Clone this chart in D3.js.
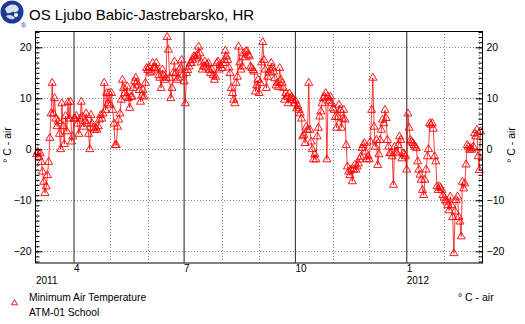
<!DOCTYPE html>
<html>
<head>
<meta charset="utf-8">
<script src="https://cdn.jsdelivr.net/npm/d3@7"></script>
<style>
    body { margin: 0; background: #fff; }
    svg { display: block; font-family: "Liberation Sans", Arial, sans-serif; }
</style>
</head>
<body>
<svg id="chart" width="525" height="324"></svg>
<script>
// daily minimum air temperature, one value per day from 1 March 2011
const startDate = new Date(2011, 2, 1);
const mar2011 = [-1, -0.5, -1.5, -0.8, -2.5, -4.4, -6.4, -8.6, -7.3, -5.1, -2.5, 2.2, 7, 13, 7, 10, 6, 4.5, 5.5, 3, 0, 9, 4.5, 1, 6.5, 3.5, 9.2, 6, 9.3, 1.5, 2.5];
const apr2011 = [6, 6, 6.5, 5, 3, 6, 9.3, 6.4, 4.4, 5.5, 7, 5, 3, 0, 6.7, 5, 4.2, 3.8, 4.2, 3.8, 4.5, 5.8, 6.7, 6, 7, 13, 7.7, 11, 9, 11];
const may2011 = [8.7, 11, 7.7, 5, 0.8, 0.8, 4.4, 5.8, 7, 9.7, 13.6, 12, 11, 10.3, 12.3, 10, 8.1, 10.3, 10.3, 12, 13.3, 14, 13.1, 12.5, 11.6, 9.3, 10.5, 11.6, 10.3, 13, 15.9];
const jun2011 = [15.5, 16.1, 15, 15.2, 16.9, 16, 15.9, 16.9, 15.6, 14.5, 14, 12, 15.6, 14.5, 13.6, 14, 22, 19.5, 14, 10, 12, 15, 17.2, 14.9, 13.6, 14, 15.6, 16, 17.5, 14.6];
const jul2011 = [13.3, 9, 14.9, 15.5, 16.2, 16.9, 16.9, 17.5, 18.2, 18.2, 17.8, 18.5, 20.1, 18.8, 17, 15.6, 16.2, 17.2, 16, 16.6, 16.9, 15.5, 14.9, 15.6, 14.5, 13.6, 14.2, 16.9, 17.2, 15.6, 16.5];
const aug2011 = [15.9, 16.9, 17.5, 19.3, 18.2, 17.5, 16, 14.9, 12, 11, 9.7, 9, 13, 14.2, 20.1, 17, 15.6, 16.2, 18.8, 18, 19.2, 19.2, 18.5, 18.2, 16.2, 15.9, 15.5, 15.2, 11.3, 12.5, 13.6];
const sep2011 = [11, 13, 17, 21, 17.5, 15.6, 12, 14.2, 15, 15.6, 16.9, 16, 15.2, 13.9, 12.5, 13, 12.2, 15.9, 13.6, 13, 12, 9.7, 11, 10.3, 9, 10.9, 10, 10.3, 9.7, 9];
const oct2011 = [9.5, 8, 8.5, 7.7, 7, 6, 2.5, 2.8, 1.2, 4.4, 3.8, 13, 3.8, 1.5, 0, -2, -1, -2, 2.5, 4.2, 6.4, 7.4, 9, 10, 10.3, 11, -2, 10.3, 9.5, 10.3, 9];
const nov2011 = [8, 7.7, 6.3, 4.2, 6.3, 8.7, 7.7, 4.2, 6, 7.7, 5.8, 0.8, -3.4, -4.4, -5.1, -4, -6.3, -4, -3.1, -4, -3.4, -2.8, -2, -1.5, 0.2, 0.8, 1.2, -0.5, -2, -1.4];
const dec2011 = [-2, 1.5, 7.7, 14, 4.4, 0.5, 1.8, -3.1, -1, 1.8, 3.8, 5.8, 5.1, 7.7, 6.1, 1.8, 0.5, -0.8, -0.8, -1.4, -7, 0.5, -0.5, -0.8, 0.8, 2.5, 1.8, -1.8, -0.8, -1, -1.4];
const jan2012 = [-4, 7, 4.2, 1.8, 1.5, 1.2, 0.8, 0.5, 0.2, -2.4, -4, -5, -6, -8, -9, -6, -4, -1.4, 0, 5.1, 4.8, 5.1, 4, -1.4, -2.4, -7.3, -8, -7.3, -7.6, -8, -9];
const feb2012 = [-9.5, -10, -10.3, -11, -12, -9.3, -11, -13.3, -20.4, -12.2, -10, -9.3, -13.3, -14.2, -17.1, -6.4, -7.7, -6.7, -3, 0.8, 0.5, -0.1, 0.2, -0.1, 0.5, 3.1, 2.5, 3.8, -1.4];
const mar2012 = [-4.1, 3.5];

const yTicks = [-20, -10, 0, 10, 20];
const yearLabels = ["2011", "2012"];
const titleText = "OS Ljubo Babic-Jastrebarsko, HR";
const unitText = "\u00b0 C - air";
const legendLines = ["Minimum Air Temperature", "ATM-01 School"];

const values = [].concat(mar2011, apr2011, may2011, jun2011, jul2011, aug2011,
    sep2011, oct2011, nov2011, dec2011, jan2012, feb2012, mar2012);
const data = values.map((v, i) => ({ date: d3.timeDay.offset(startDate, i), value: v }));

const svg = d3.select("#chart");
const plot = { left: 35, right: 482, top: 31, bottom: 262.5 };

const x = d3.scaleTime()
    .domain([new Date(2011, 1, 27, 18), new Date(2012, 2, 3, 5)])
    .range([plot.left, plot.right]);
const y = d3.scaleLinear()
    .domain([-22.2, 23.2])
    .range([plot.bottom, plot.top]);

svg.append("rect").attr("width", 525).attr("height", 324).attr("fill", "#fff");

// logo
const logo = svg.append("g").attr("transform", "translate(12,12)");
logo.append("circle").attr("r", 11.5).attr("fill", "#1d3a94");
logo.append("path")
    .attr("d", "M-7,-3 C-4,-8 3,-9 6,-5 C8,-2 5,1 2,0 C0,-1 -2,2 -5,1 Z")
    .attr("fill", "#fff").attr("opacity", 0.85);
logo.append("path")
    .attr("d", "M-6,4 C-3,2 1,3 3,6 C1,8 -3,8 -6,4 Z")
    .attr("fill", "#fff").attr("opacity", 0.8);
logo.append("circle").attr("cx", 4).attr("cy", 3).attr("r", 2).attr("fill", "#fff");
svg.append("text").attr("x", 21).attr("y", 28).attr("font-size", 7)
    .attr("fill", "#1d3a94").text("\u00ae");

svg.append("text")
    .attr("x", 29).attr("y", 20)
    .attr("font-size", 15)
    .attr("fill", "#000")
    .text(titleText);

const grid = svg.append("g");
const monthStarts = d3.timeMonth.range(x.domain()[0], x.domain()[1]);
const quarterStarts = monthStarts.filter(d => d.getMonth() % 3 === 0);

// dotted grid
grid.selectAll(".hgrid").data(yTicks).enter().append("line")
    .attr("x1", plot.left).attr("x2", plot.right)
    .attr("y1", d => Math.round(y(d)) + 0.5).attr("y2", d => Math.round(y(d)) + 0.5)
    .attr("stroke", "#888").attr("stroke-dasharray", "1,2");
grid.selectAll(".vgrid").data(monthStarts.filter(d => d.getMonth() % 3 !== 0)).enter().append("line")
    .attr("x1", d => Math.round(x(d)) + 0.5).attr("x2", d => Math.round(x(d)) + 0.5)
    .attr("y1", plot.top).attr("y2", plot.bottom)
    .attr("stroke", "#888").attr("stroke-dasharray", "1,2");
grid.selectAll(".qline").data(quarterStarts).enter().append("line")
    .attr("x1", d => x(d)).attr("x2", d => x(d))
    .attr("y1", plot.top).attr("y2", plot.bottom)
    .attr("stroke", "#444").attr("stroke-width", 1.2);

// series
svg.append("path")
    .datum(data)
    .attr("fill", "none")
    .attr("stroke", "#f00")
    .attr("stroke-opacity", 0.85)
    .attr("stroke-width", 0.9)
    .attr("d", d3.line().x(d => x(d.date)).y(d => y(d.value)));

const tri = d3.symbol(d3.symbolTriangle, 28);
svg.append("g").selectAll("path").data(data).enter().append("path")
    .attr("transform", d => `translate(${x(d.date)},${y(d.value)})`)
    .attr("d", tri)
    .attr("fill", "none")
    .attr("stroke", "#f00")
    .attr("stroke-width", 0.9);

// frame
svg.append("rect")
    .attr("x", plot.left + 0.5).attr("y", plot.top + 0.5)
    .attr("width", plot.right - plot.left).attr("height", plot.bottom - plot.top)
    .attr("fill", "none").attr("stroke", "#000");

// y axes, ticks pointing inward
const minorTicks = d3.range(-22, 24);
const fmt = d => d < 0 ? "\u2212" + Math.abs(d) : String(d);

function yAxis(side, xpos) {
    const mk = side === "left" ? d3.axisLeft : d3.axisRight;
    svg.append("g").attr("transform", `translate(${xpos},0)`)
        .call(mk(y).tickValues(minorTicks).tickSize(-4).tickFormat(""))
        .call(g => g.select(".domain").remove());
    svg.append("g").attr("transform", `translate(${xpos},0)`)
        .call(mk(y).tickValues(yTicks).tickSize(-7).tickPadding(4).tickFormat(fmt))
        .call(g => g.select(".domain").remove())
        .call(g => g.selectAll("text").attr("font-size", 10.5).attr("font-family", "Liberation Sans, Arial, sans-serif").attr("fill", "#000"));
}
yAxis("left", plot.left + 0.5);
yAxis("right", plot.right + 0.5);

svg.append("text")
    .attr("transform", "translate(11,145) rotate(-90)")
    .attr("text-anchor", "middle").attr("font-size", 10.5).text(unitText);
svg.append("text")
    .attr("transform", "translate(515,145) rotate(-90)")
    .attr("text-anchor", "middle").attr("font-size", 10.5).text(unitText);

// month and year labels
svg.append("g").selectAll("text").data(quarterStarts).enter().append("text")
    .attr("x", d => x(d)).attr("y", 272)
    .attr("font-size", 10)
    .text(d => d.getMonth() + 1);
const yearStarts = [x.domain()[0], d3.timeYear.ceil(x.domain()[0])];
svg.append("g").selectAll("text").data(yearLabels).enter().append("text")
    .attr("x", (d, i) => i === 0 ? plot.left + 1 : x(yearStarts[i]))
    .attr("y", 284)
    .attr("font-size", 10)
    .text(d => d);

// legend
svg.append("path")
    .attr("transform", "translate(14.5,303)")
    .attr("d", d3.symbol(d3.symbolTriangle, 16))
    .attr("fill", "none").attr("stroke", "#f00").attr("stroke-width", 0.9);
svg.append("g").selectAll("text").data(legendLines).enter().append("text")
    .attr("x", 29).attr("y", (d, i) => 301 + i * 14.5)
    .attr("font-size", 10.3)
    .text(d => d);
svg.append("text").attr("x", 458).attr("y", 301).attr("font-size", 10.5).text(unitText);
</script>
</body>
</html>
